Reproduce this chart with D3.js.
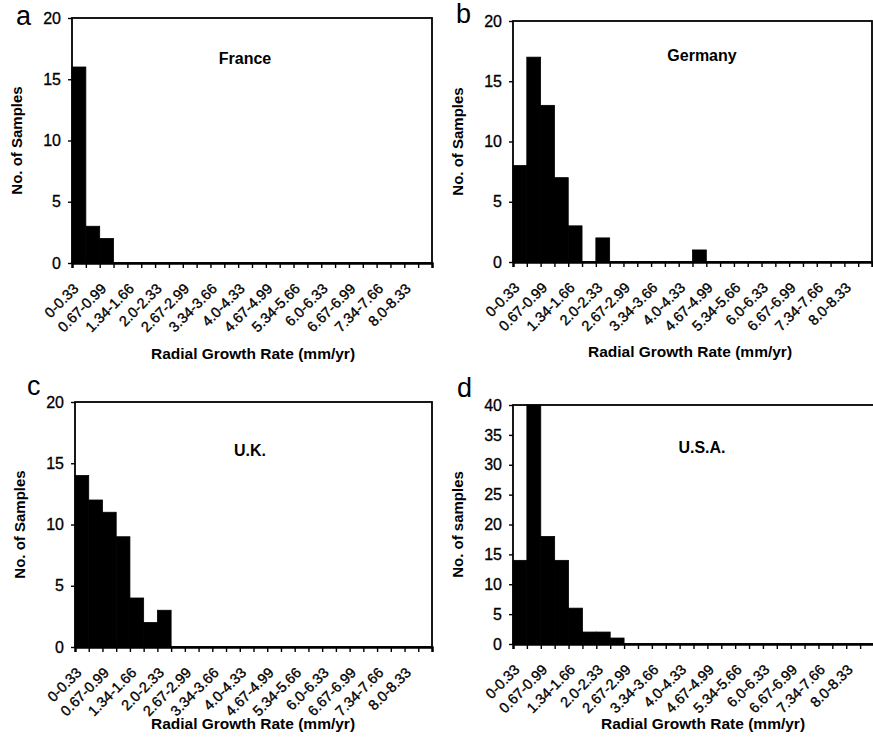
<!DOCTYPE html>
<html lang="en">
  <head>
    <meta charset="UTF-8" />
    <title>Radial Growth Rate histograms</title>
    <script src="https://d3js.org/d3.v7.min.js"></script>
    <style>
      body {
        margin: 0;
        padding: 0;
        background: #fff;
        font-family: "Liberation Sans", Arial, sans-serif;
      }
      svg {
        display: block;
      }
      .tick text {
        fill: #000;
      }
    </style>
  </head>
  <body>
    <svg width="873" height="750"></svg>
    <script>
      // bins of 0.33 mm/yr
      const bins = [
        "0-0.33", "0.34-0.66", "0.67-0.99", "1.0-1.33", "1.34-1.66", "1.67-1.99",
        "2.0-2.33", "2.34-2.66", "2.67-2.99", "3.0-3.33", "3.34-3.66", "3.67-3.99",
        "4.0-4.33", "4.34-4.66", "4.67-4.99", "5.0-5.33", "5.34-5.66", "5.67-5.99",
        "6.0-6.33", "6.34-6.66", "6.67-6.99", "7.0-7.33", "7.34-7.66", "7.67-7.99",
        "8.0-8.33", "8.34-8.66"
      ];
      // only every other bin gets a label
      const binLabels = bins.filter((d, i) => i % 2 === 0);

      const france = [16, 3, 2, 0, 0, 0, 0, 0, 0, 0, 0, 0, 0, 0, 0, 0, 0, 0, 0, 0, 0, 0, 0, 0, 0, 0];
      const germany = [8, 17, 13, 7, 3, 0, 2, 0, 0, 0, 0, 0, 0, 1, 0, 0, 0, 0, 0, 0, 0, 0, 0, 0, 0, 0];
      const uk = [14, 12, 11, 9, 4, 2, 3, 0, 0, 0, 0, 0, 0, 0, 0, 0, 0, 0, 0, 0, 0, 0, 0, 0, 0, 0];
      const usa = [14, 40, 18, 14, 6, 2, 2, 1, 0, 0, 0, 0, 0, 0, 0, 0, 0, 0, 0, 0, 0, 0, 0, 0, 0, 0];

      const yTicks20 = [0, 5, 10, 15, 20];
      const yTicks40 = [0, 5, 10, 15, 20, 25, 30, 35, 40];

      const panels = [
        { letter: "a", title: "France", ylab: "No. of Samples", values: france, ymax: 20, ticks: yTicks20,
          box: { l: 72, r: 432, t: 18, b: 263 }, letterPos: [16, 25], titlePos: [245, 64], xlabPos: [253, 359] },
        { letter: "b", title: "Germany", ylab: "No. of Samples", values: germany, ymax: 20, ticks: yTicks20,
          box: { l: 513, r: 872, t: 21, b: 262 }, letterPos: [456, 23], titlePos: [702, 61], xlabPos: [690, 357] },
        { letter: "c", title: "U.K.", ylab: "No. of Samples", values: uk, ymax: 20, ticks: yTicks20,
          box: { l: 75, r: 432, t: 402, b: 647 }, letterPos: [27, 395], titlePos: [250, 456], xlabPos: [253, 729] },
        { letter: "d", title: "U.S.A.", ylab: "No. of samples", values: usa, ymax: 40, ticks: yTicks40,
          box: { l: 513, r: 874, t: 405, b: 644 }, letterPos: [457, 397], titlePos: [702, 453], xlabPos: [703, 729] }
      ];

      const svg = d3.select("svg");

      panels.forEach((p) => {
        const g = svg.append("g");
        const x = d3.scaleBand().domain(bins).range([p.box.l, p.box.r]).padding(0);
        const xEdge = d3.scaleLinear().domain([0, bins.length]).range([p.box.l, p.box.r]);
        const y = d3.scaleLinear().domain([0, p.ymax]).range([p.box.b, p.box.t]).clamp(true);

        // bars (thin stroke so neighbours touch)
        g.selectAll(".bar")
          .data(p.values.map((v, i) => ({ bin: bins[i], v: v })).filter((d) => d.v > 0))
          .enter()
          .append("rect")
          .attr("x", (d) => x(d.bin))
          .attr("width", x.bandwidth())
          .attr("y", (d) => y(d.v))
          .attr("height", (d) => y(0) - y(d.v))
          .attr("fill", "#000")
          .attr("stroke", "#000")
          .attr("stroke-width", 0.8);

        // frame
        g.append("rect")
          .attr("x", p.box.l)
          .attr("y", p.box.t)
          .attr("width", p.box.r - p.box.l)
          .attr("height", p.box.b - p.box.t)
          .attr("fill", "none")
          .attr("stroke", "#000")
          .attr("stroke-width", 1.8);

        // tick marks at bin edges
        const edgeAxis = g.append("g")
          .attr("transform", `translate(0,${p.box.b})`)
          .call(d3.axisBottom(xEdge).tickValues(d3.range(bins.length + 1)).tickSize(5).tickFormat(""));
        edgeAxis.select(".domain").attr("stroke-width", 2.4);
        edgeAxis.selectAll(".tick line").attr("stroke-width", 1.4);

        // category labels
        const labAxis = g.append("g")
          .attr("transform", `translate(0,${p.box.b})`)
          .call(d3.axisBottom(x).tickSize(0).tickFormat((d) => (binLabels.includes(d) ? d : "")));
        labAxis.select(".domain").remove();
        labAxis.selectAll("text")
          .attr("font-family", "Liberation Sans, Arial, sans-serif")
          .attr("font-size", 14.5)
          .attr("stroke", "#000")
          .attr("stroke-width", 0.35)
          .attr("text-anchor", "end")
          .attr("x", 0)
          .attr("y", 0)
          .attr("dy", "0.35em")
          .attr("transform", "translate(-3,23) rotate(-45)");

        // y axis
        const yAxis = g.append("g")
          .attr("transform", `translate(${p.box.l},0)`)
          .call(d3.axisLeft(y).tickValues(p.ticks).tickSize(4).tickPadding(7));
        yAxis.select(".domain").remove();
        yAxis.selectAll(".tick line").attr("stroke-width", 1.4);
        yAxis.selectAll("text")
          .attr("font-family", "Liberation Sans, Arial, sans-serif")
          .attr("font-size", 16)
          .attr("stroke", "#000")
          .attr("stroke-width", 0.3);

        // panel letter
        g.append("text")
          .attr("x", p.letterPos[0])
          .attr("y", p.letterPos[1])
          .attr("font-size", 27)
          .text(p.letter);

        // country title
        g.append("text")
          .attr("x", p.titlePos[0])
          .attr("y", p.titlePos[1])
          .attr("text-anchor", "middle")
          .attr("font-size", 16)
          .attr("font-weight", "bold")
          .text(p.title);

        // y label
        g.append("text")
          .attr("transform", `translate(${p.box.l - 50},${(p.box.t + p.box.b) / 2}) rotate(-90)`)
          .attr("text-anchor", "middle")
          .attr("font-size", 15)
          .attr("font-weight", "bold")
          .text(p.ylab);

        // x label
        g.append("text")
          .attr("x", p.xlabPos[0])
          .attr("y", p.xlabPos[1])
          .attr("text-anchor", "middle")
          .attr("font-size", 15.5)
          .attr("font-weight", "bold")
          .text("Radial Growth Rate (mm/yr)");
      });
    </script>
  </body>
</html>
